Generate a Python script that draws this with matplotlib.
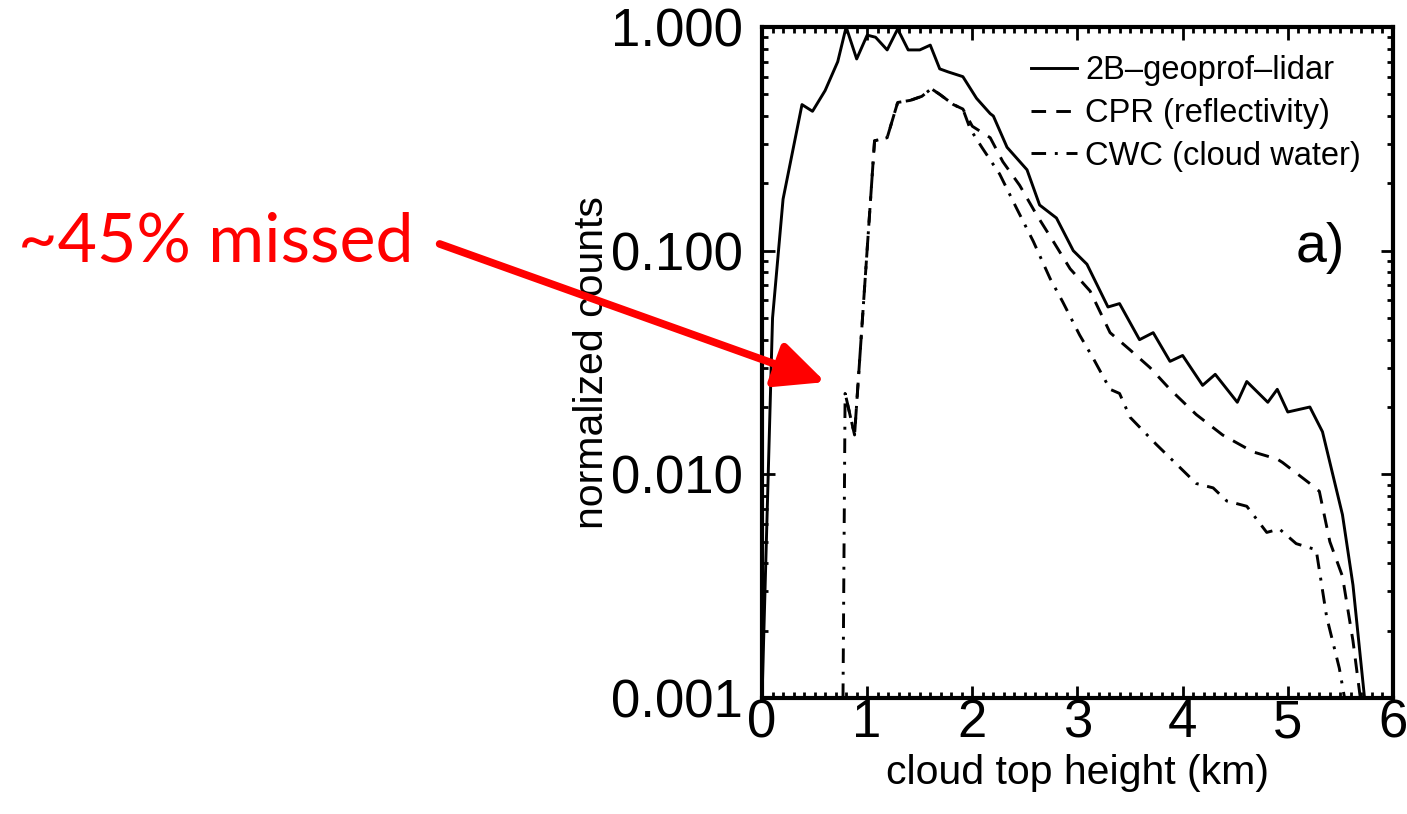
import numpy as np
from matplotlib import pyplot as plt
from matplotlib.ticker import MultipleLocator, LogLocator, FixedLocator, NullFormatter
from matplotlib.patches import FancyArrowPatch

plt.rcParams['font.family'] = ['Liberation Sans', 'DejaVu Sans']

# cloud top height (km) and normalized counts
lidarHeight = [0.0, 0.1, 0.2, 0.38, 0.48, 0.6, 0.72, 0.8, 0.9, 1.0, 1.08, 1.19, 1.29, 1.39,
               1.5, 1.6, 1.69, 1.77, 1.91, 2.04, 2.17, 2.2, 2.33, 2.52, 2.64, 2.8, 2.96, 3.09,
               3.29, 3.4, 3.59, 3.72, 3.88, 4.0, 4.19, 4.31, 4.52, 4.61, 4.81, 4.9, 5.0,
               5.21, 5.33, 5.52, 5.62, 5.73]
lidarCounts = [0.001, 0.05, 0.17, 0.45, 0.42, 0.52, 0.70, 1.0, 0.72, 0.92, 0.9, 0.79, 0.98, 0.79,
               0.79, 0.83, 0.65, 0.63, 0.60, 0.48, 0.41, 0.40, 0.29, 0.23, 0.16, 0.14, 0.10, 0.087,
               0.056, 0.058, 0.040, 0.043, 0.032, 0.034, 0.025, 0.028, 0.021, 0.026, 0.021, 0.024, 0.019,
               0.020, 0.0155, 0.0066, 0.0032, 0.001]

cprHeight = [0.8, 0.88, 1.07, 1.19, 1.29, 1.41, 1.52, 1.61, 1.69, 1.82, 1.91, 2.0, 2.17, 2.29,
             2.45, 2.61, 2.77, 2.93, 3.12, 3.31, 3.5, 3.69, 3.88, 4.13, 4.38, 4.67, 4.9, 4.95,
             5.21, 5.3, 5.4, 5.52, 5.62, 5.69]
cprCounts = [0.022, 0.015, 0.31, 0.32, 0.46, 0.47, 0.49, 0.53, 0.50, 0.45, 0.43, 0.36, 0.32, 0.25,
             0.196, 0.145, 0.11, 0.083, 0.066, 0.043, 0.036, 0.030, 0.024, 0.0185, 0.015, 0.0126, 0.0117, 0.0113,
             0.0091, 0.0084, 0.005, 0.0035, 0.0018, 0.001]

cwcHeight = [0.77, 0.79, 0.88, 1.07, 1.19, 1.29, 1.41, 1.52, 1.61, 1.69, 1.82, 1.91, 1.98, 2.09,
             2.26, 2.42, 2.58, 2.74, 2.86, 3.02, 3.15, 3.31, 3.4, 3.5, 3.75, 4.13, 4.29, 4.42,
             4.61, 4.8, 4.92, 5.08, 5.27, 5.37, 5.49, 5.54]
cwcCounts = [0.001, 0.023, 0.015, 0.31, 0.32, 0.46, 0.47, 0.49, 0.53, 0.50, 0.45, 0.43, 0.35, 0.29,
             0.22, 0.155, 0.11, 0.075, 0.059, 0.042, 0.033, 0.024, 0.023, 0.018, 0.0136, 0.0091, 0.0087, 0.0076,
             0.0072, 0.0055, 0.0057, 0.0049, 0.0046, 0.0023, 0.00136, 0.001]

seriesLabels = ["2B\u2013geoprof\u2013lidar", "CPR (reflectivity)", "CWC (cloud water)"]
yTickValues = [0.001, 0.01, 0.1, 1.0]


fig = plt.figure(figsize=(14.07, 8.14), dpi=100)
ax = fig.add_axes([0.5416, 0.1425, 0.4484, 0.8243])

lw = 2.1
ax.plot(lidarHeight, lidarCounts, color="black", lw=lw, linestyle="-", label=seriesLabels[0])
ax.plot(cprHeight, cprCounts, color="black", lw=lw, linestyle=(0, (5, 3.5)), label=seriesLabels[1])
ax.plot(cwcHeight, cwcCounts, color="black", lw=lw, linestyle=(0, (5, 3, 1, 3)), label=seriesLabels[2])

ax.set_yscale("log")
ax.set_xlim(0, 6)
ax.set_ylim(0.001, 1.0)

ax.xaxis.set_major_locator(MultipleLocator(1))
ax.xaxis.set_minor_locator(MultipleLocator(0.1))
ax.yaxis.set_major_locator(FixedLocator(yTickValues))
ax.yaxis.set_minor_locator(LogLocator(base=10, subs=np.arange(2, 10)))
ax.yaxis.set_minor_formatter(NullFormatter())
ax.set_yticklabels(["%.3f" % v for v in yTickValues])

ax.tick_params(which="both", direction="in", top=True, right=True, width=2)
ax.tick_params(which="major", length=9, labelsize=38)
ax.tick_params(axis="y", which="major", pad=14)
ax.tick_params(axis="x", which="major", pad=0)
ax.tick_params(which="minor", length=4.5)
for spine in ax.spines.values():
    spine.set_linewidth(3)

ax.set_xlabel("cloud top height (km)", fontsize=29.5, labelpad=4)
ax.set_ylabel("normalized counts", fontsize=29.5, labelpad=0)

leg = ax.legend(loc="upper left", bbox_to_anchor=(0.427, 0.958), frameon=False, fontsize=23.5,
                handlelength=1.4, handletextpad=0.25, labelspacing=0.36, borderaxespad=0, borderpad=0)

ax.text(0.924, 0.671, "a)", transform=ax.transAxes, fontsize=40, ha="right", va="center")

# red annotation pointing at the missing low clouds
fig.text(18 / 1407, 1 - 243 / 814, "~45% missed", color="#ff0000", fontsize=49,
         family=["Lato", "DejaVu Sans"], ha="left", va="center")
arrow = FancyArrowPatch((437 / 1407, 1 - 243 / 814), (828 / 1407, 1 - 383 / 814),
                        transform=fig.transFigure, arrowstyle="-|>,head_length=30,head_width=14",
                        mutation_scale=1, color="#ff0000", lw=5.5, zorder=10)
fig.add_artist(arrow)

fig.savefig("out.png", dpi=100)
